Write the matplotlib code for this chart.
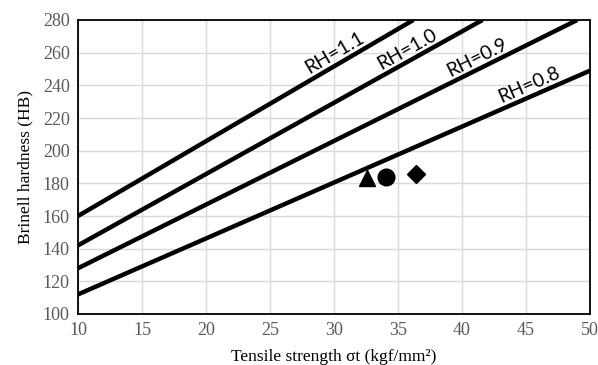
import numpy as np
import matplotlib
matplotlib.use("Agg")
import matplotlib.pyplot as plt

# RH lines: start/end points (tensile strength, Brinell hardness)
rh_labels = ["RH=1.1", "RH=1.0", "RH=0.9", "RH=0.8"]
rh_x = [[10, 36.2], [10, 41.6], [10, 49.0], [10, 50]]
rh_y = [[160, 280], [142, 280], [128, 280], [112, 249]]
# tensile strength at which each label sits along its line
label_x = [30.5, 36.1, 41.6, 45.6]

# measured samples
sample_x = [32.6, 34.1, 36.4]
sample_y = [183.5, 184.0, 186.0]
sample_markers = ["^", "o", "D"]
sample_sizes = [11, 12, 9.5]

x_ticks = [10, 15, 20, 25, 30, 35, 40, 45, 50]
y_ticks = [100, 120, 140, 160, 180, 200, 220, 240, 260, 280]

fig = plt.figure(figsize=(5.98, 3.65), dpi=100)
ax = fig.add_axes([78/598, 51/365, 512/598, 294/365])
ax.set_xlim(10, 50)
ax.set_ylim(100, 280)
ax.set_xticks(x_ticks)
ax.set_yticks(y_ticks)
ax.grid(True, color="#d9d9d9", linewidth=1.0)
ax.set_axisbelow(True)
for s in ax.spines.values():
    s.set_color("black")
    s.set_linewidth(1.3)
ax.tick_params(length=0, pad=6, labelsize=13, labelcolor="#595959")
for lab in ax.get_xticklabels() + ax.get_yticklabels():
    lab.set_fontfamily("Liberation Serif")

for xs, ys in zip(rh_x, rh_y):
    ax.plot(xs, ys, color="black", linewidth=3.2, solid_capstyle="butt")

for x, y, m, s in zip(sample_x, sample_y, sample_markers, sample_sizes):
    ax.plot([x], [y], marker=m, markersize=s, color="black", linestyle="none")

fig.canvas.draw()
inv = ax.transData.inverted()
for name, xs, ys, lx in zip(rh_labels, rh_x, rh_y, label_x):
    p0 = ax.transData.transform((xs[0], ys[0]))
    p1 = ax.transData.transform((xs[1], ys[1]))
    d = p1 - p0
    ang = np.degrees(np.arctan2(d[1], d[0]))
    ly = ys[0] + (ys[1] - ys[0]) * (lx - xs[0]) / (xs[1] - xs[0])
    base = ax.transData.transform((lx, ly))
    normal = np.array([-d[1], d[0]]) / np.hypot(d[0], d[1])
    pos = inv.transform(base + normal * 11)
    ax.text(pos[0], pos[1], name, rotation=ang, rotation_mode="anchor",
            ha="center", va="center", fontsize=14, fontfamily="Lato", color="black")

ax.set_ylabel("Brinell hardness (HB)", fontsize=12.5, fontfamily="Liberation Serif", labelpad=7)
ax.set_xlabel("Tensile strength σt (kgf/mm²)", fontsize=12.5, fontfamily="Liberation Serif", labelpad=7)

fig.savefig("out.png", dpi=100)
